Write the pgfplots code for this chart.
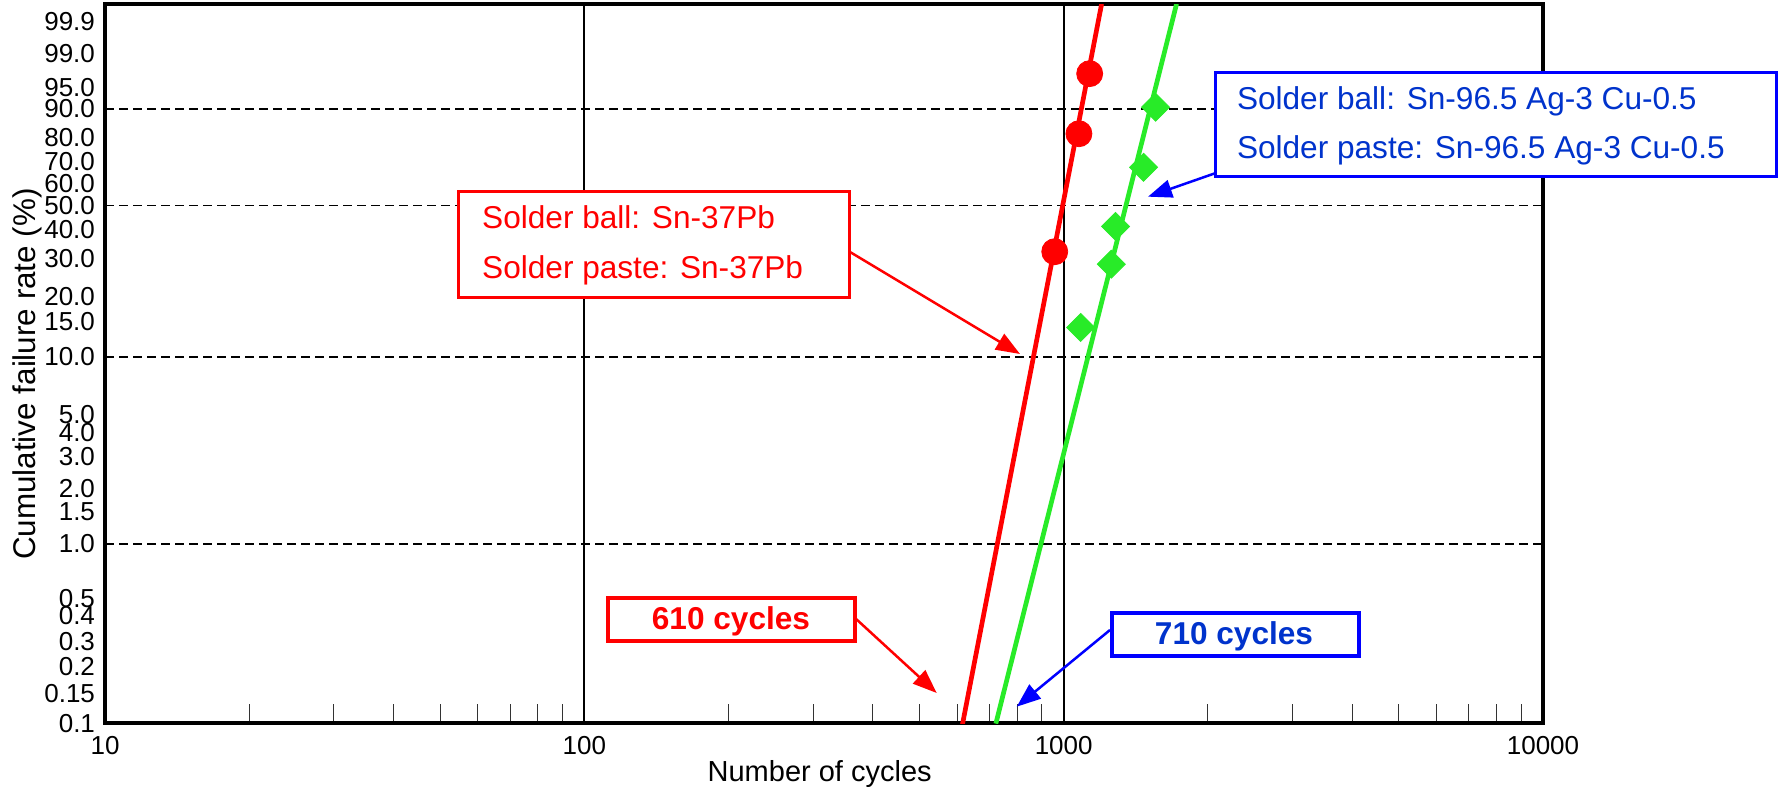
\documentclass[border=0pt]{standalone}
\usepackage{fontspec}
\setmainfont{Liberation Sans}
\usepackage{pgfplots}
\pgfplotsset{compat=1.18}
\usetikzlibrary{arrows.meta}

\definecolor{fitred}{RGB}{255,0,0}
\definecolor{fitgreen}{RGB}{40,235,40}
\definecolor{boxblue}{RGB}{0,0,255}
\definecolor{textblue}{RGB}{0,51,204}

\newcommand\ytickfont{\fontsize{13}{15}\selectfont}
\newcommand\xtickfont{\fontsize{13}{15}\selectfont}
\newcommand\xlabfont{\fontsize{14.5}{17}\selectfont}
\newcommand\ylabfont{\fontsize{15.7}{19}\selectfont}
\newcommand\notefont{\fontsize{15.8}{19}\selectfont}

\begin{document}
\begin{tikzpicture}
\begin{axis}[
  at={(0,0)}, anchor=south west,
  scale only axis, width=719pt, height=359.5pt,
  xmode=log, xmin=10, xmax=10000,
  ymin=0.1, ymax=99.98,
  % Weibull probability scale
  y coord trafo/.code={\pgfmathparse{ln(-ln(1-#1/100))}},
  y coord inv trafo/.code={\pgfmathparse{100*(1-exp(-exp(#1)))}},
  axis line style={line width=2pt},
  xtick={10,100,1000,10000},
  xticklabels={10,100,1000,10000},
  minor xtick={20,30,40,50,60,70,80,90,200,300,400,500,600,700,800,900,2000,3000,4000,5000,6000,7000,8000,9000},
  xtick pos=bottom, ytick pos=left,
  tick align=inside,
  major tick length=0pt, minor tick length=9.5pt,
  minor x tick style={black!80, line width=0.5pt},
  ytick={0.1,0.15,0.2,0.3,0.4,0.5,1,1.5,2,3,4,5,10,15,20,30,40,50,60,70,80,90,95,99,99.9},
  yticklabels={0.1,0.15,0.2,0.3,0.4,0.5,1.0,1.5,2.0,3.0,4.0,5.0,10.0,15.0,20.0,30.0,40.0,50.0,60.0,70.0,80.0,90.0,95.0,99.0,99.9},
  extra y ticks={1,10,50,90},
  extra y tick labels={},
  extra y tick style={grid=major},
  xmajorgrids=true,
  x grid style={black, line width=1pt},
  y grid style={black, line width=0.75pt, dash pattern=on 4.5pt off 2.5pt},
  yticklabel style={font=\ytickfont, xshift=-1.5pt},
  xticklabel style={font=\xtickfont, yshift=-3pt},
  every axis x label/.style={at={(rel axis cs:0.497,0)}, anchor=center, yshift=-25.5pt,
    font=\xlabfont},
  every axis y label/.style={at={(rel axis cs:0,0.486)}, anchor=center, rotate=90, yshift=38.75pt,
    font=\ylabfont},
  xlabel={Number of cycles},
  ylabel={Cumulative failure rate (\%)},
]
% Sn-37Pb: fitted line and failures
\addplot[fitred, line width=2.35pt, no markers] coordinates {(612,0.1) (1200,99.98)};
\addplot[only marks, mark=*, mark size=6.5pt, fitred, mark options={draw=fitred, fill=fitred}]
  coordinates {(958,32.3) (1076,81.6) (1133,97.2)};
% Sn-Ag-Cu: fitted line and failures
\addplot[fitgreen, line width=2.35pt, no markers] coordinates {(722,0.107) (1720,99.98)};
\addplot[only marks, mark=square*, mark size=4.95pt, fitgreen, mark options={draw=fitgreen, fill=fitgreen, rotate=45}]
  coordinates {(1085,14.1) (1257,28.4) (1283,41.4) (1468,67.2) (1555,90.5)};
\end{axis}

% annotations, 1 px of the reference = 0.5pt, origin at the axis corner
\draw[fitred, line width=1.5pt, fill=white] (176.65pt,213.1pt) rectangle (372pt,265.9pt);
\node[fitred, anchor=base west, inner sep=0pt, font=\notefont] at (188.4pt,247.6pt) {Solder ball: Sn-37Pb};
\node[fitred, anchor=base west, inner sep=0pt, font=\notefont] at (188.4pt,222.25pt) {Solder paste: Sn-37Pb};
\draw[fitred, line width=1.25pt, -{Triangle[length=12pt,width=9pt]}] (372.5pt,235.75pt) -- (457.5pt,184.75pt);

\draw[boxblue, line width=1.5pt, fill=white] (555pt,273.4pt) rectangle (835.5pt,325.6pt);
\node[textblue, anchor=base west, inner sep=0pt, font=\notefont] at (565.8pt,306.75pt) {Solder ball: Sn-96.5 Ag-3 Cu-0.5};
\node[textblue, anchor=base west, inner sep=0pt, font=\notefont] at (565.8pt,282.6pt) {Solder paste: Sn-96.5 Ag-3 Cu-0.5};
\draw[boxblue, line width=1.25pt, -{Triangle[length=12pt,width=9pt]}] (555pt,275.1pt) -- (521.5pt,263.4pt);

\draw[fitred, line width=2pt, fill=white] (251.5pt,41.25pt) rectangle (375pt,62.75pt);
\node[fitred, anchor=base, inner sep=0pt, font=\notefont\bfseries] at (313pt,46.75pt) {610 cycles};
\draw[fitred, line width=1.25pt, -{Triangle[length=12pt,width=9pt]}] (375pt,52.75pt) -- (415.85pt,15.25pt);

\draw[boxblue, line width=2pt, fill=white] (503.5pt,33.75pt) rectangle (627pt,55.25pt);
\node[textblue, anchor=base, inner sep=0pt, font=\notefont\bfseries] at (564.5pt,39.25pt) {710 cycles};
\draw[boxblue, line width=1.25pt, -{Triangle[length=12pt,width=9pt]}] (502.5pt,46.75pt) -- (455.85pt,8.4pt);

\pgfresetboundingbox
\path (-52.5pt,-33.75pt) rectangle (839pt,361.75pt);
\end{tikzpicture}
\end{document}
